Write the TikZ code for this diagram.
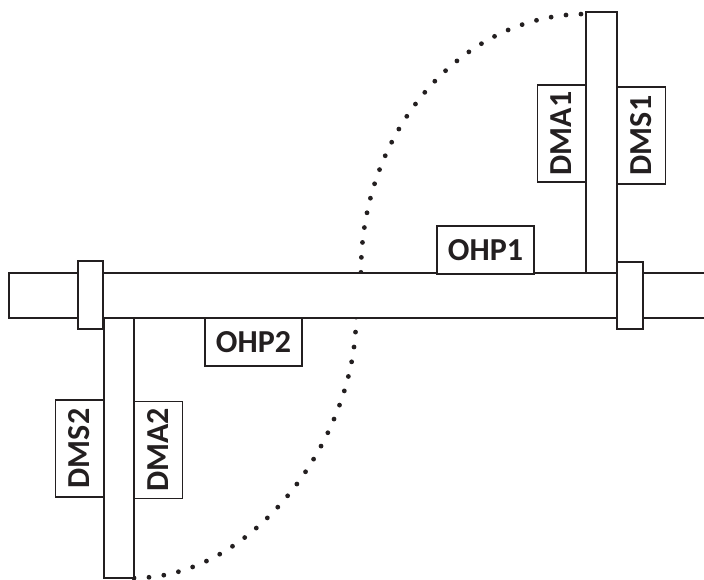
\documentclass[tikz,border=0pt]{standalone}
\usepackage{fontspec}
\setmainfont{Carlito}
\definecolor{ink}{HTML}{231F20}
\begin{document}
\begin{tikzpicture}[x=1pt,y=-1pt,
  ln/.style={draw=ink,line width=1.4pt},
  bar/.style={ln,fill=white,inner sep=0pt},
  lbl/.style={ln,fill=white,inner sep=0pt,minimum width=97pt,minimum height=48pt,
    text=ink,font=\fontsize{32}{34}\selectfont\bfseries},
  dots/.style={draw=ink,line width=4.8pt,line cap=round,dash pattern=on 0pt off 15pt}]
\useasboundingbox (0,0) rectangle (704,579);
\begin{scope}
\clip (0,0) rectangle (704,579);
% dotted path
\coordinate (cbot) at (134,578);
\coordinate (cm2) at (356,318);
\coordinate (cm1) at (361,272);
\coordinate (ctop) at (586,14);
\draw[dots] (cbot) .. controls (257,578) and (356,434) .. (cm2) -- (cm1)
  .. controls (361,130) and (462,14) .. (ctop);
% main bar
\fill[white] (9,273) rectangle (710,318);
\draw[ln] (710,273) -- (9,273) -- (9,318) -- (710,318);
\coordinate (mainbar) at (360,295.5);
% vertical bars
\node[bar,minimum width=31pt,minimum height=261pt] (vbar1) at (601.5,142.5) {};
\node[bar,minimum width=30pt,minimum height=260pt] (vbar2) at (119,448) {};
% collars
\node[bar,minimum width=25pt,minimum height=68pt] (coll) at (90.5,295) {};
\node[bar,minimum width=26pt,minimum height=67pt] (colr) at (630,295.5) {};
% labels
\node[lbl] (ohp1) at (485.5,250) {OHP1};
\node[lbl] (ohp2) at (253.5,342) {OHP2};
\node[lbl,rotate=90] (dma1) at (561.5,133.5) {DMA1};
\node[lbl,rotate=90] (dms1) at (641.5,135.5) {DMS1};
\node[lbl,rotate=90] (dms2) at (79.5,448.5) {DMS2};
\node[lbl,rotate=90] (dma2) at (158.5,450) {DMA2};
\end{scope}
\end{tikzpicture}
\end{document}
